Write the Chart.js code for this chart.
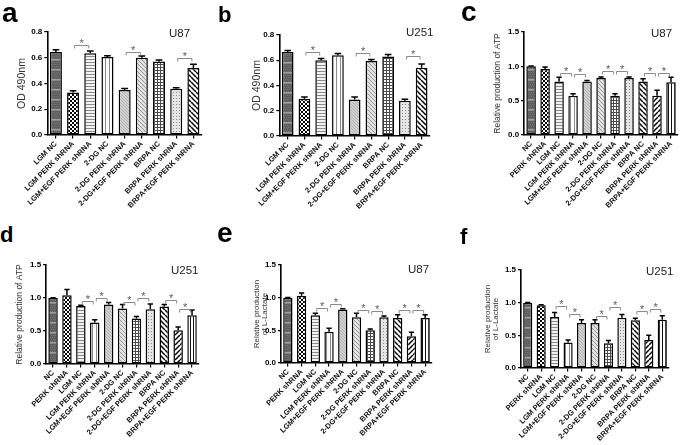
<!DOCTYPE html>
<html><head><meta charset="utf-8">
<script src="https://cdn.jsdelivr.net/npm/chart.js@4.4.1/dist/chart.umd.min.js"></script>
<style>
html,body{margin:0;padding:0;background:#fff;}
body{width:685px;height:445px;position:relative;overflow:hidden;font-family:"Liberation Sans",Arial,sans-serif;}
canvas{position:absolute;}
.lbl{position:absolute;line-height:1;white-space:nowrap;font-family:"Liberation Sans",Arial,sans-serif;}
</style></head>
<body>
<script>
// ---------------- DATA ----------------
const catsAB = ['LGM NC','LGM PERK shRNA','LGM+EGF PERK shRNA','2-DG NC','2-DG PERK shRNA','2-DG+EGF PERK shRNA','BRPA NC','BRPA PERK shRNA','BRPA+EGF PERK shRNA'];
const catsCF = ['NC','PERK shRNA','LGM NC','LGM PERK shRNA','LGM+EGF PERK shRNA','2-DG NC','2-DG PERK shRNA','2-DG+EGF PERK shRNA','BRPA NC','BRPA PERK shRNA','BRPA+EGF PERK shRNA'];
const yTicksAB = [0, 0.2, 0.4, 0.6, 0.8];
const yTicksCF = [0, 0.5, 1.0, 1.5];

const aValues = [0.645, 0.33, 0.635, 0.605, 0.35, 0.60, 0.57, 0.36, 0.52];
const aErrors = [0.018, 0.013, 0.017, 0.010, 0.012, 0.013, 0.013, 0.007, 0.030];
const aSig = [[1,2,0.70],[4,5,0.647],[7,8,0.596]];

const bValues = [0.665, 0.295, 0.60, 0.64, 0.29, 0.595, 0.63, 0.28, 0.54];
const bErrors = [0.012, 0.013, 0.014, 0.013, 0.018, 0.010, 0.015, 0.012, 0.030];
const bSig = [[1,2,0.667],[4,5,0.654],[7,8,0.63]];

const cValues = [1.0, 0.96, 0.78, 0.57, 0.78, 0.83, 0.57, 0.83, 0.78, 0.57, 0.77];
const cErrors = [0.004, 0.03, 0.06, 0.03, 0.015, 0.015, 0.03, 0.015, 0.04, 0.08, 0.07];
const cSig = [[2,3,0.907],[3,4,0.89],[5,6,0.936],[6,7,0.936],[8,9,0.90],[9,10,0.90]];

const dValues = [1.0, 1.04, 0.88, 0.63, 0.90, 0.84, 0.69, 0.83, 0.87, 0.51, 0.74];
const dErrors = [0.004, 0.09, 0.01, 0.04, 0.03, 0.06, 0.03, 0.08, 0.03, 0.05, 0.08];
const dSig = [[2,3,0.96],[3,4,0.995],[5,6,0.94],[6,7,0.995],[8,9,0.97],[9,10,0.83]];

const eValues = [1.0, 1.03, 0.73, 0.48, 0.82, 0.70, 0.50, 0.70, 0.69, 0.41, 0.69];
const eErrors = [0.004, 0.04, 0.03, 0.05, 0.01, 0.06, 0.02, 0.02, 0.05, 0.06, 0.05];
const eSig = [[2,3,0.84],[3,4,0.90],[5,6,0.815],[6,7,0.79],[8,9,0.815],[9,10,0.815]];

const fValues = [1.0, 0.96, 0.78, 0.39, 0.69, 0.69, 0.38, 0.77, 0.73, 0.43, 0.74];
const fErrors = [0.004, 0.01, 0.07, 0.04, 0.05, 0.05, 0.04, 0.05, 0.03, 0.07, 0.06];
const fSig = [[2,3,0.955],[3,4,0.82],[5,6,0.80],[6,7,0.93],[8,9,0.88],[9,10,0.90]];

// ---------------- PATTERNS ----------------
function tile(ctx, w, h, draw){
  const c = document.createElement('canvas'); c.width = w; c.height = h;
  const g = c.getContext('2d'); draw(g, w, h);
  return ctx.createPattern(c, 'repeat');
}
function diag(g, s, dir, color, lw){
  g.strokeStyle = color; g.lineWidth = lw;
  for (let k = -1; k <= 1; k++){
    g.beginPath();
    if (dir > 0){ g.moveTo(k*s, 0); g.lineTo(k*s + s, s); }
    else { g.moveTo(k*s + s, 0); g.lineTo(k*s, s); }
    g.stroke();
  }
}
const PAT = {
  nc: ctx => tile(ctx, 4, 10, (g,w,h)=>{ g.fillStyle='#5e5e5e'; g.fillRect(0,0,w,h);
        g.fillStyle='#767676'; for(let y=0;y<h;y+=2) for(let x=(y/2)%2;x<w;x+=2) g.fillRect(x,y,1,1);
        g.fillStyle='#9c9c9c'; g.fillRect(0,7,w,1); g.fillStyle='#888'; g.fillRect(0,8,w,1); }),
  checker: ctx => tile(ctx, 4, 4, (g,w,h)=>{ g.fillStyle='#fff'; g.fillRect(0,0,w,h);
        g.fillStyle='#000'; g.fillRect(0,0,2,2); g.fillRect(2,2,2,2); }),
  hlines: ctx => tile(ctx, 2, 3, (g,w,h)=>{ g.fillStyle='#f2f2f2'; g.fillRect(0,0,w,h);
        g.fillStyle='#8a8a8a'; g.fillRect(0,1,w,1); }),
  vlines: ctx => tile(ctx, 4, 2, (g,w,h)=>{ g.fillStyle='#fbfbfb'; g.fillRect(0,0,w,h);
        g.fillStyle='#8a8a8a'; g.fillRect(1,0,1,h); }),
  finediag: ctx => tile(ctx, 3, 3, (g,w,h)=>{ g.fillStyle='#d2d2d2'; g.fillRect(0,0,w,h); diag(g,3,1,'#a8a8a8',0.8); }),
  graydiag: ctx => tile(ctx, 4, 4, (g,w,h)=>{ g.fillStyle='#e2e2e2'; g.fillRect(0,0,w,h); diag(g,4,1,'#8f8f8f',0.9); }),
  grid: ctx => tile(ctx, 3, 3, (g,w,h)=>{ g.fillStyle='#fff'; g.fillRect(0,0,w,h);
        g.fillStyle='#4a4a4a'; g.fillRect(0,0,w,1); g.fillRect(0,0,1,h); }),
  dots: ctx => tile(ctx, 3, 3, (g,w,h)=>{ g.fillStyle='#e6e6e6'; g.fillRect(0,0,w,h);
        g.fillStyle='#8c8c8c'; g.fillRect(1,1,1,1); }),
  back: ctx => tile(ctx, 5, 5, (g,w,h)=>{ g.fillStyle='#fff'; g.fillRect(0,0,w,h); diag(g,5,1,'#000',1.5); }),
  fwd: ctx => tile(ctx, 5, 5, (g,w,h)=>{ g.fillStyle='#fff'; g.fillRect(0,0,w,h); diag(g,5,-1,'#000',1.5); }),
  vthick: ctx => tile(ctx, 3, 2, (g,w,h)=>{ g.fillStyle='#fff'; g.fillRect(0,0,w,h);
        g.fillStyle='#111'; g.fillRect(1,0,1,h); })
};
const patAB = ['nc','checker','hlines','vlines','finediag','graydiag','grid','dots','back'];
const patCF = ['nc','checker','hlines','vlines','finediag','graydiag','grid','dots','back','fwd','vthick'];

// ---------------- PLUGIN: error bars + significance brackets ----------------
const extras = {
  id: 'extras',
  afterDatasetsDraw(chart, args, opts){
    const ctx = chart.ctx, y = chart.scales.y;
    const meta = chart.getDatasetMeta(0);
    const vals = chart.data.datasets[0].data;
    ctx.save();
    ctx.strokeStyle = '#000'; ctx.lineWidth = 1.5;
    meta.data.forEach((bar, i) => {
      const top = y.getPixelForValue(vals[i]);
      const e = y.getPixelForValue(vals[i] + opts.errors[i]);
      const hw = bar.width * 0.28;
      ctx.beginPath();
      ctx.moveTo(bar.x, top); ctx.lineTo(bar.x, e);
      ctx.moveTo(bar.x - hw, e); ctx.lineTo(bar.x + hw, e);
      ctx.stroke();
    });
    ctx.strokeStyle = '#8a8a8a'; ctx.lineWidth = 1; ctx.fillStyle = '#5a5a5a';
    ctx.font = '11px "Liberation Sans", Arial, sans-serif';
    ctx.textAlign = 'center'; ctx.textBaseline = 'alphabetic';
    opts.sig.forEach(([i, j, lev]) => {
      const x1 = meta.data[i].x + 1.5, x2 = meta.data[j].x - 1.5;
      const yy = Math.round(y.getPixelForValue(lev)) + 0.5;
      ctx.beginPath();
      ctx.moveTo(x1, yy + 3); ctx.lineTo(x1, yy); ctx.lineTo(x2, yy); ctx.lineTo(x2, yy + 3);
      ctx.stroke();
      ctx.fillText('*', (x1 + x2) / 2, yy + 1.5);
    });
    ctx.restore();
  }
};

// ---------------- PANELS ----------------
function panel(p){
  const titleFont = p.tf, tlh = p.tlh || 1.2;
  const lh = titleFont * tlh;
  const cLeft = p.t1 - lh / 2;
  const yW = p.axisLeft - cLeft;
  const padTop = 10, padRight = 6, xH = 82;
  const cTop = p.top - padTop;
  const w = Math.round(p.right + padRight - cLeft);
  const h = Math.round(p.bottom + xH - cTop);
  const cv = document.createElement('canvas');
  cv.width = w; cv.height = h;
  cv.style.left = cLeft + 'px'; cv.style.top = cTop + 'px';
  cv.style.width = w + 'px'; cv.style.height = h + 'px';
  document.body.appendChild(cv);
  const ctx = cv.getContext('2d');
  const bg = p.pats.map(k => PAT[k](ctx));
  new Chart(ctx, {
    type: 'bar',
    data: { labels: p.cats, datasets: [{ data: p.values, backgroundColor: bg, borderColor: '#000',
      borderWidth: 1.5, borderSkipped: false, barPercentage: p.bp, categoryPercentage: 1 }] },
    options: {
      responsive: false, animation: false, devicePixelRatio: 1,
      layout: { padding: { top: padTop, right: padRight, left: 0, bottom: 0 } },
      plugins: { legend: { display: false }, tooltip: { enabled: false }, title: { display: false },
                 extras: { errors: p.errors, sig: p.sig } },
      scales: {
        x: {
          grid: { display: true, drawOnChartArea: false, drawTicks: true, tickLength: 3.5, offset: false, color: '#000', lineWidth: 1.2 },
          border: { display: true, color: '#000', width: 1.6 },
          ticks: { autoSkip: false, minRotation: 45, maxRotation: 45, padding: 1, color: '#111',
                   font: { family: '"Liberation Sans", Arial, sans-serif', size: 7.5, weight: 'bold' } },
          afterFit: s => { s.height = xH; }
        },
        y: {
          min: 0, max: p.ticks[p.ticks.length - 1],
          afterBuildTicks: s => { s.ticks = p.ticks.map(v => ({ value: v })); },
          grid: { display: true, drawOnChartArea: false, drawTicks: true, tickLength: 3, color: '#000', lineWidth: 1.2 },
          border: { display: true, color: '#000', width: 1.6 },
          ticks: { padding: 2, color: '#000', callback: v => Number(v).toFixed(1),
                   font: { family: '"Liberation Sans", Arial, sans-serif', size: 8, weight: 'bold' } },
          title: { display: true, text: p.title, color: '#333', padding: 0,
                   font: { family: '"Liberation Sans", Arial, sans-serif', size: titleFont, lineHeight: tlh } },
          afterFit: s => { s.width = yW; }
        }
      }
    },
    plugins: [extras]
  });
}

function label(text, left, baseline, size, bold, color){
  const d = document.createElement('div');
  d.className = 'lbl'; d.textContent = text;
  d.style.left = left + 'px';
  d.style.top = (baseline - 0.8465 * size) + 'px';
  d.style.fontSize = size + 'px';
  d.style.fontWeight = bold ? 'bold' : 'normal';
  d.style.color = color;
  document.body.appendChild(d);
}

panel({cats: catsAB, values: aValues, errors: aErrors, sig: aSig, ticks: yTicksAB, pats: patAB, bp: 0.7,
       axisLeft: 47, top: 32, right: 202, bottom: 135, t1: 22, tf: 10.5, title: 'OD 490nm'});
panel({cats: catsAB, values: bValues, errors: bErrors, sig: bSig, ticks: yTicksAB, pats: patAB, bp: 0.7,
       axisLeft: 279, top: 35, right: 430, bottom: 136, t1: 257, tf: 10.5, title: 'OD 490nm'});
panel({cats: catsCF, values: cValues, errors: cErrors, sig: cSig, ticks: yTicksCF, pats: patCF, bp: 0.68,
       axisLeft: 524, top: 32, right: 678, bottom: 135, t1: 498, tf: 8.5, title: 'Relative production of ATP'});
panel({cats: catsCF, values: dValues, errors: dErrors, sig: dSig, ticks: yTicksCF, pats: patCF, bp: 0.68,
       axisLeft: 46, top: 265, right: 199, bottom: 364, t1: 20, tf: 8.5, title: 'Relative production of ATP'});
panel({cats: catsCF, values: eValues, errors: eErrors, sig: eSig, ticks: yTicksCF, pats: patCF, bp: 0.68,
       axisLeft: 281, top: 265, right: 432, bottom: 363, t1: 257, tf: 8, tlh: 1.0, title: ['Relative production','of L-Lactate']});
panel({cats: catsCF, values: fValues, errors: fErrors, sig: fSig, ticks: yTicksCF, pats: patCF, bp: 0.68,
       axisLeft: 521, top: 270, right: 669, bottom: 368, t1: 488, tf: 8, tlh: 1.0, title: ['Relative production','of L-Lactate']});

label('a', 2, 23, 28, true, '#000');
label('b', 218, 23, 22, true, '#000');
label('c', 461, 22, 28, true, '#000');
label('d', 0, 243, 22, true, '#000');
label('e', 217, 243, 28, true, '#000');
label('f', 460, 245, 22, true, '#000');

label('U87', 169, 38, 11.5, false, '#222');
label('U251', 406, 37, 11.5, false, '#222');
label('U87', 651, 38, 11.5, false, '#222');
label('U251', 171, 275, 11.5, false, '#222');
label('U87', 408, 274, 11.5, false, '#222');
label('U251', 646, 276, 11.5, false, '#222');
</script>
</body></html>
